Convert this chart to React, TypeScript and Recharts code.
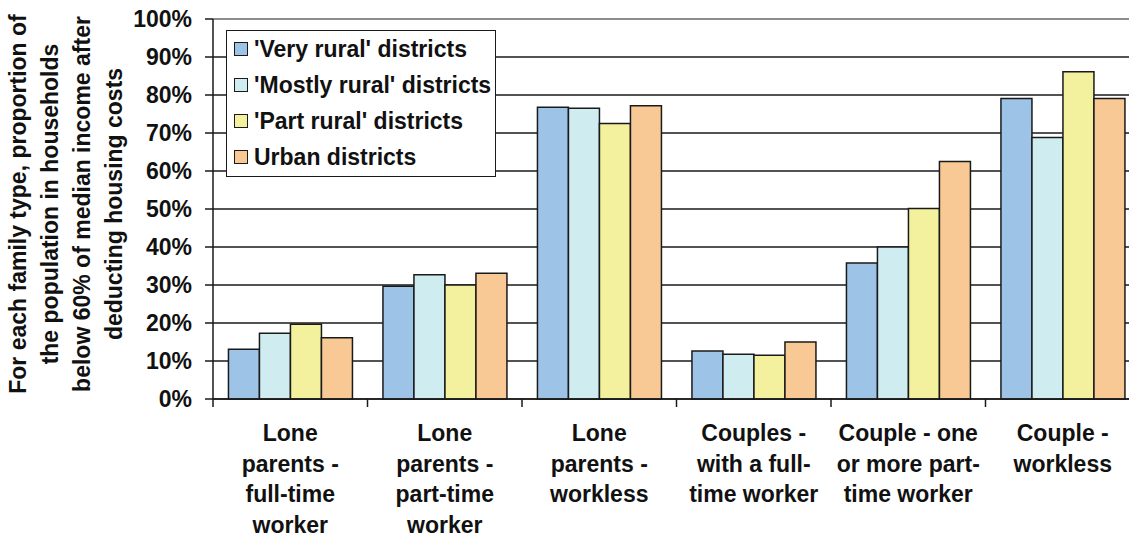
import { BarChart, Bar, XAxis, YAxis, CartesianGrid, Legend, ReferenceLine } from 'recharts';

const categories = ['lpFull', 'lpPart', 'lpWorkless', 'cFull', 'cPart', 'cWorkless'];
const categoryLines = [
  ['Lone', 'parents -', 'full-time', 'worker'],
  ['Lone', 'parents -', 'part-time', 'worker'],
  ['Lone', 'parents -', 'workless'],
  ['Couples -', 'with a full-', 'time worker'],
  ['Couple - one', 'or more part-', 'time worker'],
  ['Couple -', 'workless'],
];

const veryRural = [13.1, 29.7, 76.8, 12.6, 35.8, 79.1];
const mostlyRural = [17.3, 32.7, 76.5, 11.8, 40.0, 68.8];
const partRural = [19.7, 30.0, 72.5, 11.5, 50.1, 86.1];
const urban = [16.1, 33.1, 77.2, 15.0, 62.5, 79.1];

const yTicks = [0, 10, 20, 30, 40, 50, 60, 70, 80, 90, 100];
const yLabelLines = [
  'For each family type, proportion of',
  'the population in households',
  'below 60% of median income after',
  'deducting housing costs',
];

const series = [
  { key: 'veryRural', name: "'Very rural' districts", color: '#9DC3E6' },
  { key: 'mostlyRural', name: "'Mostly rural' districts", color: '#CFECF0' },
  { key: 'partRural', name: "'Part rural' districts", color: '#F3F19D' },
  { key: 'urban', name: 'Urban districts', color: '#F8C995' },
];

const data = categories.map((c, i) => ({
  name: c,
  veryRural: veryRural[i],
  mostlyRural: mostlyRural[i],
  partRural: partRural[i],
  urban: urban[i],
}));

const FONT = '"Liberation Sans", Arial, sans-serif';
const FS = 23;
const INK = '#1a1a1a';

const XTick = (props: any) => {
  const { x, y, payload, index } = props;
  const half = payload?.offset ?? 77;
  const lines = categoryLines[index] ?? [];
  return (
    <g>
      <line x1={x - half} y1={y} x2={x - half} y2={y + 8} stroke={INK} strokeWidth={1.5} />
      <text
        x={x}
        y={y}
        textAnchor="middle"
        fontFamily={FONT}
        fontSize={FS}
        fontWeight="bold"
        fill="#111"
      >
        {lines.map((l, i) => (
          <tspan key={i} x={x} y={y + 42 + i * 30.6}>
            {l}
          </tspan>
        ))}
      </text>
    </g>
  );
};

const YLabel = () => (
  <text
    transform="translate(10, 204) rotate(-90)"
    textAnchor="middle"
    fontFamily={FONT}
    fontSize={FS}
    fontWeight="bold"
    fill="#111"
  >
    {yLabelLines.map((l, i) => (
      <tspan key={i} x={0} y={16 + i * 32}>
        {l}
      </tspan>
    ))}
  </text>
);

const LegendBox = () => (
  <div
    style={{
      border: `1.5px solid ${INK}`,
      background: '#fff',
      width: 268,
      height: 145,
      boxSizing: 'content-box',
      fontFamily: FONT,
      fontSize: FS,
      fontWeight: 'bold',
      color: '#111',
    }}
  >
    {series.map((s) => (
      <div key={s.key} style={{ height: 36, lineHeight: '36px', display: 'flex', alignItems: 'center', whiteSpace: 'nowrap' }}>
        <span
          style={{
            display: 'inline-block',
            width: 12,
            height: 12,
            background: s.color,
            border: `1.5px solid ${INK}`,
            marginLeft: 7,
            marginRight: 6,
          }}
        />
        {s.name}
      </div>
    ))}
  </div>
);

export default function App() {
  return (
    <div style={{ position: 'fixed', left: 0, top: 0, width: 1129, height: 538, overflow: 'hidden', background: '#fff' }}>
      <BarChart
        width={1140}
        height={538}
        data={data}
        margin={{ top: 19, right: 0, left: 0, bottom: 0 }}
        barCategoryGap="10%"
        barGap={0}
      >
        <CartesianGrid vertical={false} stroke={INK} strokeWidth={1.5} />
        <ReferenceLine y={100} stroke="#a0a0a0" strokeWidth={1.5} />
        <XAxis
          dataKey="name"
          interval={0}
          height={139}
          tickLine={false}
          tickSize={0}
          tickMargin={0}
          axisLine={{ stroke: INK, strokeWidth: 1.5 }}
          tick={<XTick />}
        />
        <YAxis
          width={213}
          domain={[0, 100]}
          ticks={yTicks}
          interval={0}
          tickSize={8}
          tickMargin={13}
          tickFormatter={(v: number) => `${v}%`}
          tick={{ fontFamily: FONT, fontSize: FS, fontWeight: 'bold', fill: '#111' }}
          tickLine={{ stroke: INK, strokeWidth: 1.5 }}
          axisLine={{ stroke: INK, strokeWidth: 1.5 }}
          label={{ content: <YLabel /> }}
        />
        <Legend
          layout="horizontal"
          verticalAlign="middle"
          align="center"
          content={<LegendBox />}
          wrapperStyle={{ left: 226, top: 30, width: 271, height: 148 }}
        />
        {series.map((s) => (
          <Bar
            key={s.key}
            dataKey={s.key}
            name={s.name}
            fill={s.color}
            stroke={INK}
            strokeWidth={1.5}
            isAnimationActive={false}
          />
        ))}
      </BarChart>
    </div>
  );
}
